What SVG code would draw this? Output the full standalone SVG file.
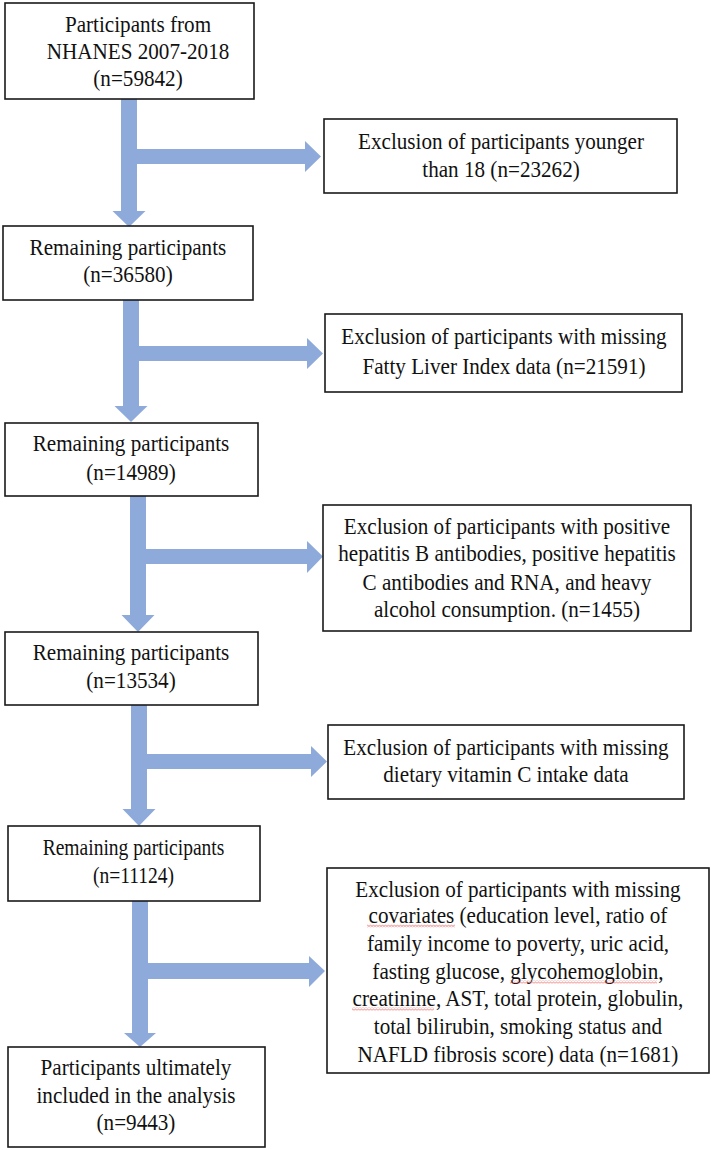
<svg xmlns="http://www.w3.org/2000/svg" width="711" height="1150" viewBox="0 0 711 1150">
<style>
.box{fill:#fff;stroke:#1a1a1a;stroke-width:1.6}
.t{font-family:"Liberation Serif","Times New Roman",serif;font-size:23px;fill:#111;text-anchor:middle;transform:scale(0.92,1)}
.nr{transform:scale(0.85,1)}
.arr{fill:#8eaadb;stroke:none}
.wave{fill:url(#wv)}
</style>
<defs>
<pattern id="wv" patternUnits="userSpaceOnUse" x="0" y="924.5" width="3" height="3">
<path d="M0,2.2 L1.5,0.6 L3,2.2" fill="none" stroke="#e03a3a" stroke-width="0.8"/>
</pattern>
</defs>
<rect width="711" height="1150" fill="#fff"/>
<g id="connectors">
<path class="arr" d="M121,99 H137 V149 H305 V141 L321,156.5 L305,172 V164 H137 V211 H145.5 L129,227 L112.5,211 H121 Z"/>
<path class="arr" d="M123,300 H139 V346 H307 V338 L323,353.5 L307,369 V361 H139 V406 H147.5 L131,422 L114.5,406 H123 Z"/>
<path class="arr" d="M130,496 H146 V549 H307 V541 L323,556.5 L307,573 V564 H146 V615 H154.5 L138,632 L121.5,615 H130 Z"/>
<path class="arr" d="M131,705 H147 V754 H311 V746 L327,761.5 L311,777 V769 H147 V809 H155.5 L139,826 L122.5,809 H131 Z"/>
<path class="arr" d="M132,901 H148 V963 H309 V956 L325,971 L309,987 V979 H148 V1033 H156 L140,1047 L124,1033 H132 Z"/>
</g>
<g id="n1">
<rect class="box" x="5" y="3" width="249" height="96"/>
<text class="t" x="150" y="32">Participants from</text>
<text class="t" x="150" y="59">NHANES 2007-2018</text>
<text class="t" x="150" y="86">(n=59842)</text>
</g>
<g id="e1">
<rect class="box" x="324" y="119" width="353" height="74"/>
<text class="t" x="544.6" y="149">Exclusion of participants younger</text>
<text class="t" x="544.6" y="177">than 18 (n=23262)</text>
</g>
<g id="n2">
<rect class="box" x="3" y="226" width="250" height="74"/>
<text class="t" x="139.1" y="255">Remaining participants</text>
<text class="t" x="139.1" y="282">(n=36580)</text>
</g>
<g id="e2">
<rect class="box" x="325" y="314" width="357" height="78"/>
<text class="t" x="547.8" y="344">Exclusion of participants with missing</text>
<text class="t" x="547.8" y="374">Fatty Liver Index data (n=21591)</text>
</g>
<g id="n3">
<rect class="box" x="5" y="423" width="253" height="73"/>
<text class="t" x="142.4" y="451">Remaining participants</text>
<text class="t" x="142.4" y="480">(n=14989)</text>
</g>
<g id="e3">
<rect class="box" x="323" y="505" width="368" height="126"/>
<text class="t" x="551.1" y="534">Exclusion of participants with positive</text>
<text class="t" x="551.1" y="561">hepatitis B antibodies, positive hepatitis</text>
<text class="t" x="551.1" y="590">C antibodies and RNA, and heavy</text>
<text class="t" x="551.1" y="617">alcohol consumption. (n=1455)</text>
</g>
<g id="n4">
<rect class="box" x="5" y="632" width="253" height="73"/>
<text class="t" x="142.4" y="660">Remaining participants</text>
<text class="t" x="142.4" y="688">(n=13534)</text>
</g>
<g id="e4">
<rect class="box" x="328" y="725" width="356" height="74"/>
<text class="t" x="550" y="755">Exclusion of participants with missing</text>
<text class="t" x="550" y="782">dietary vitamin C intake data</text>
</g>
<g id="n5">
<rect class="box" x="8" y="826" width="252" height="75"/>
<text class="t nr" x="157.1" y="855">Remaining participants</text>
<text class="t nr" x="157.1" y="883">(n=11124)</text>
</g>
<g id="e5">
<rect class="box" x="327" y="868" width="382" height="205"/>
<text class="t" x="563" y="897">Exclusion of participants with missing</text>
<text class="t" x="563" y="923">covariates (education level, ratio of</text>
<text class="t" x="563" y="951">family income to poverty, uric acid,</text>
<text class="t" x="563" y="979">fasting glucose, glycohemoglobin,</text>
<text class="t" x="563" y="1006">creatinine, AST, total protein, globulin,</text>
<text class="t" x="563" y="1034">total bilirubin, smoking status and</text>
<text class="t" x="563" y="1062">NAFLD fibrosis score) data (n=1681)</text>
<rect class="wave" x="367" y="924.5" width="88" height="3"/>
<rect class="wave" x="510" y="980.5" width="147" height="3"/>
<rect class="wave" x="352" y="1007.5" width="82" height="3"/>
</g>
<g id="n6">
<rect class="box" x="8" y="1047" width="257" height="100"/>
<text class="t" x="147.8" y="1075">Participants ultimately</text>
<text class="t" x="147.8" y="1103">included in the analysis</text>
<text class="t" x="147.8" y="1130">(n=9443)</text>
</g>
</svg>
